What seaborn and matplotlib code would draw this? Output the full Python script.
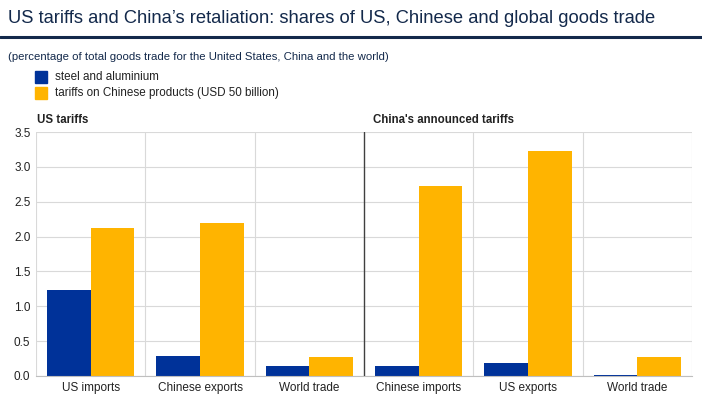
import pandas as pd
import matplotlib.pyplot as plt
import seaborn as sns
from matplotlib.patches import Rectangle

# data
categories = ["us_imports", "cn_exports", "world_us", "cn_imports", "us_exports", "world_cn"]
tick_labels = ["US imports", "Chinese exports", "World trade",
               "Chinese imports", "US exports", "World trade"]
steel_alu = [1.23, 0.28, 0.15, 0.15, 0.18, 0.01]
chinese_products = [2.13, 2.19, 0.27, 2.73, 3.23, 0.27]
series_names = ["steel and aluminium", "tariffs on Chinese products (USD 50 billion)"]

BLUE = "#003299"
YELLOW = "#FFB400"
NAVY = "#13294B"

df = pd.DataFrame({
    "category": categories * 2,
    "series": [series_names[0]] * len(categories) + [series_names[1]] * len(categories),
    "value": steel_alu + chinese_products,
})

sns.set_style("white")
plt.rcParams["font.family"] = ["Liberation Sans", "DejaVu Sans"]

fig = plt.figure(figsize=(7.02, 4.11), dpi=100)
ax = fig.add_axes([0.0513, 0.0852, 0.9345, 0.5936])

sns.barplot(data=df, x="category", y="value", hue="series", order=categories,
            hue_order=series_names, palette=[BLUE, YELLOW], width=0.8,
            saturation=1, legend=False, linewidth=0, ax=ax)

ax.set_ylim(0, 3.5)
ax.set_xlim(-0.5, len(categories) - 0.5)
ax.set_yticks([0, 0.5, 1.0, 1.5, 2.0, 2.5, 3.0, 3.5])
ax.set_yticklabels([f"{v:.1f}" for v in ax.get_yticks()], fontsize=8.5, color="#222222")
ax.set_xticks(range(len(categories)))
ax.set_xticklabels(tick_labels, fontsize=8.5, color="#222222")
ax.set_xlabel("")
ax.set_ylabel("")
ax.tick_params(axis="both", length=0, pad=4)

# grid: horizontal lines and category separators
ax.set_axisbelow(True)
ax.yaxis.grid(True, color="#d9d9d9", linewidth=0.8)
for b in range(len(categories) + 1):
    xb = b - 0.5
    if b == 3:
        ax.axvline(xb, color="#404040", linewidth=1.0, zorder=3)
    else:
        ax.axvline(xb, color="#d9d9d9", linewidth=0.8, zorder=0)
for s in ["top", "right", "left"]:
    ax.spines[s].set_visible(False)
ax.spines["bottom"].set_color("#bfbfbf")
ax.spines["bottom"].set_linewidth(0.8)

# titles
fig.text(0.011, 0.955, "US tariffs and China\u2019s retaliation: shares of US, Chinese and global goods trade",
         fontsize=13.2, color=NAVY, va="center", ha="left")
fig.add_artist(plt.Line2D([0, 1], [0.91, 0.91], color=NAVY, linewidth=2.2,
                          transform=fig.transFigure))
fig.text(0.011, 0.862, "(percentage of total goods trade for the United States, China and the world)",
         fontsize=8.2, color=NAVY, va="center", ha="left")

# legend
legend_y = [0.812, 0.773]
for name, col, yy in zip(series_names, [BLUE, YELLOW], legend_y):
    fig.add_artist(Rectangle((0.050, yy - 0.013), 0.017, 0.029, color=col,
                             transform=fig.transFigure))
    fig.text(0.078, yy, name, fontsize=8.4, color="#222222", va="center", ha="left")

# panel labels
fig.text(0.052, 0.709, "US tariffs", fontsize=8.3, fontweight="bold", color="#222222",
         va="center", ha="left")
fig.text(0.531, 0.709, "China's announced tariffs", fontsize=8.3, fontweight="bold",
         color="#222222", va="center", ha="left")

fig.savefig("out.png", dpi=100)
